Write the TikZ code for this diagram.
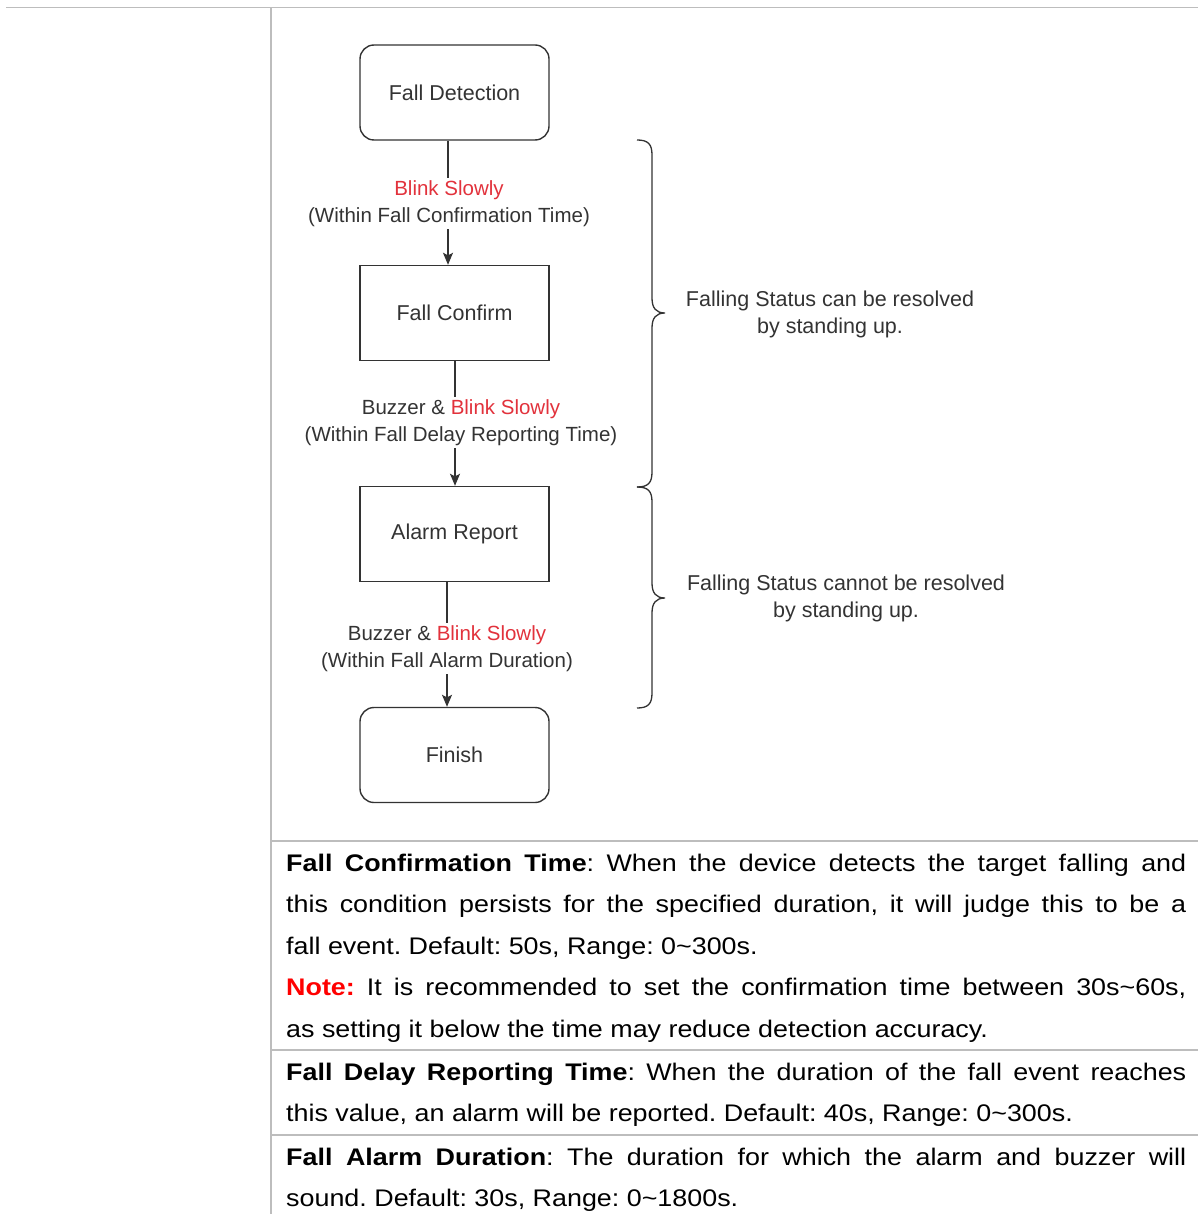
\documentclass[tikz,border=0pt]{standalone}
\usepackage{fontspec}
\setmainfont{Liberation Sans}
\newfontfamily\tabfont[FakeStretch=1.12]{Liberation Sans}
\usetikzlibrary{arrows.meta}
\definecolor{ink}{HTML}{333333}
\definecolor{blink}{HTML}{E2323C}
\definecolor{rulegray}{HTML}{BDBDBD}
\definecolor{notered}{HTML}{FF0000}
\frenchspacing
\begin{document}
\begin{tikzpicture}[x=1pt,y=-1pt,
  box/.style={draw=ink, line width=1.4pt, minimum width=189pt, minimum height=95pt, inner sep=0pt, text=ink, font=\fontsize{21.5}{27}\selectfont},
  rbox/.style={box, rounded corners=14pt},
  conn/.style={draw=ink, line width=1.3pt, -{Stealth[length=12pt,width=10pt,inset=2.5pt]}},
  lbl/.style={fill=white, text=ink, align=center, inner sep=2pt, font=\fontsize{20.5}{27}\selectfont},
  side/.style={text=ink, align=center, inner sep=0pt, font=\fontsize{21.5}{27}\selectfont},
  brace/.style={draw=ink, line width=1.3pt},
  tline/.style={anchor=base west, inner sep=0pt, text=black, font=\tabfont\frenchspacing\fontsize{24}{41.5}\selectfont},
  rulel/.style={draw=rulegray, line width=1.5pt}]
\useasboundingbox (0,0) rectangle (1198,1214);

% table rules
\draw[rulel] (6,7.5) -- (1198,7.5);
\draw[rulel] (271,7.5) -- (271,1214);
\draw[rulel] (271,841) -- (1198,841);
\draw[rulel] (271,1050) -- (1198,1050);
\draw[rulel] (271,1135) -- (1198,1135);

% boxes
\node[rbox] (fd) at (454.5,92.5) {Fall Detection};
\node[box]  (fc) at (454.5,313) {Fall Confirm};
\node[box]  (ar) at (454.5,534) {Alarm Report};
\node[rbox] (fi) at (454.5,755) {Finish};

% connectors
\draw[conn] ([xshift=-6.5pt]fd.south) -- ([xshift=-6.5pt]fc.north);
\draw[conn] ([xshift=0.5pt]fc.south) -- ([xshift=0.5pt]ar.north);
\draw[conn] ([xshift=-7.5pt]ar.south) -- ([xshift=-7.5pt]fi.north);

% connector labels
\node[lbl] (t1) at (449,203.5) {\textcolor{blink}{Blink Slowly}\\(Within Fall Confirmation Time)};
\node[lbl] (t2) at (461,422.5) {Buzzer \& \textcolor{blink}{Blink Slowly}\\(Within Fall Delay Reporting Time)};
\node[lbl] (t3) at (447,648.5) {Buzzer \& \textcolor{blink}{Blink Slowly}\\(Within Fall Alarm Duration)};

% braces
\draw[brace] (637,140) .. controls (648,140) and (652,144) .. (652,155) -- (652,298)
  .. controls (652,308) and (656,313) .. (665,313)
  .. controls (656,313) and (652,318) .. (652,328) -- (652,472)
  .. controls (652,483) and (648,487) .. (637,487);
\draw[brace] (637,487) .. controls (648,487) and (652,491) .. (652,502) -- (652,583)
  .. controls (652,593) and (656,598) .. (665,598)
  .. controls (656,598) and (652,603) .. (652,613) -- (652,693)
  .. controls (652,704) and (648,708) .. (637,708);

% side notes
\node[side] (s1) at (830,314.5) {Falling Status can be resolved\\by standing up.};
\node[side] (s2) at (846,598.5) {Falling Status cannot be resolved\\by standing up.};

% table text
\node[tline] (l1) at (286,871) {\hbox to 900pt{\textbf{Fall Confirmation Time}: When the device detects the target falling and}};
\node[tline] (l2) at (286,912.5) {\hbox to 900pt{this condition persists for the specified duration, it will judge this to be a}};
\node[tline] (l3) at (286,954) {fall event. Default: 50s, Range: 0\textasciitilde 300s.};
\node[tline] (l4) at (286,995.5) {\hbox to 900pt{\textcolor{notered}{\textbf{Note:}} It is recommended to set the confirmation time between 30s\textasciitilde 60s,}};
\node[tline] (l5) at (286,1037) {as setting it below the time may reduce detection accuracy.};
\node[tline] (l6) at (286,1080) {\hbox to 900pt{\textbf{Fall Delay Reporting Time}: When the duration of the fall event reaches}};
\node[tline] (l7) at (286,1121.5) {this value, an alarm will be reported. Default: 40s, Range: 0\textasciitilde 300s.};
\node[tline] (l8) at (286,1165) {\hbox to 900pt{\textbf{Fall Alarm Duration}: The duration for which the alarm and buzzer will}};
\node[tline] (l9) at (286,1206.5) {sound. Default: 30s, Range: 0\textasciitilde 1800s.};
\end{tikzpicture}
\end{document}
